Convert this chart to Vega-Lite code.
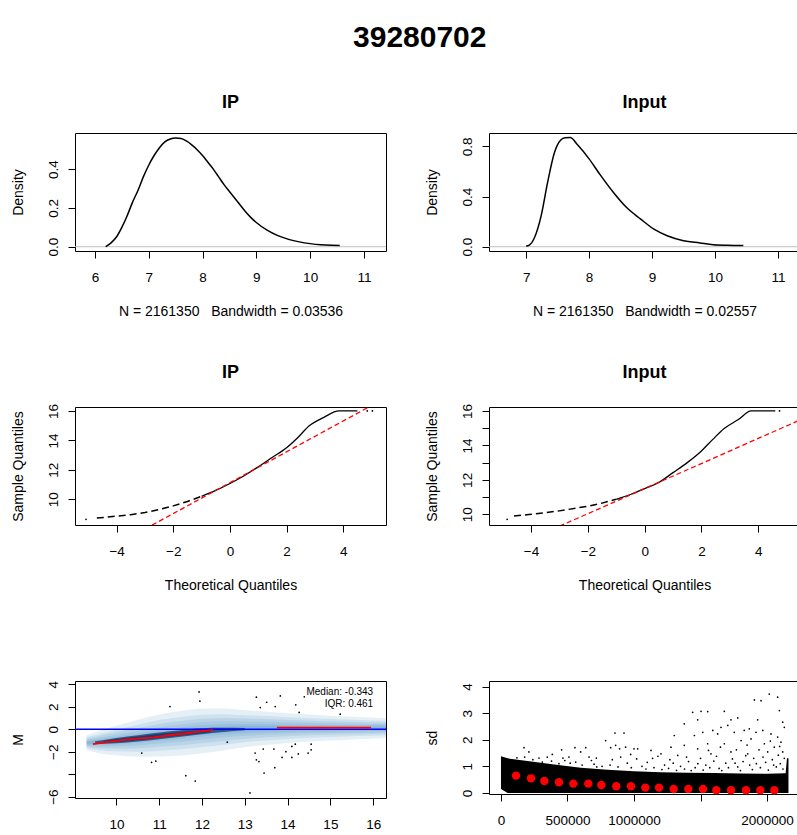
{
  "$schema": "https://vega.github.io/schema/vega-lite/v6.json",
  "background": "white",
  "padding": {"left": 10, "top": 22, "right": 0, "bottom": 0},
  "title": {"text": "39280702", "fontSize": 30, "fontWeight": "bold", "font": "Liberation Sans", "color": "black", "anchor": "middle", "offset": 41, "dx": 14},
  "config": {
    "view": {"stroke": "black", "strokeWidth": 1},
    "axis": {"domain": false, "grid": false, "tickColor": "black", "tickSize": 7, "labelFont": "Liberation Sans", "labelFontSize": 13.5, "labelColor": "black", "titleFont": "Liberation Sans", "titleFontSize": 14, "titleFontWeight": "normal", "titleColor": "black", "labelOverlap": false, "labelFlush": false, "labelSeparation": -40},
    "axisQuantitative": {"labelOverlap": false},
    "axisX": {"labelPadding": 12, "titlePadding": 21, "labelOverlap": false},
    "axisY": {"labelAngle": 270, "labelAlign": "center", "labelBaseline": "bottom", "labelPadding": 8, "titlePadding": 21, "labelOverlap": false},
    "title": {"font": "Liberation Sans", "fontSize": 18, "fontWeight": "bold", "color": "black", "offset": 21}
  },
  "datasets": {
    "dens_ip": [
      {"x": 6.2, "y": 0.0}, {"x": 6.3, "y": 0.02}, {"x": 6.4, "y": 0.05}, {"x": 6.5, "y": 0.10}, {"x": 6.6, "y": 0.16}, {"x": 6.7, "y": 0.23}, {"x": 6.8, "y": 0.29}, {"x": 6.9, "y": 0.36}, {"x": 7.0, "y": 0.42}, {"x": 7.1, "y": 0.47}, {"x": 7.2, "y": 0.51}, {"x": 7.3, "y": 0.54}, {"x": 7.4, "y": 0.555}, {"x": 7.5, "y": 0.56}, {"x": 7.6, "y": 0.558}, {"x": 7.7, "y": 0.545}, {"x": 7.8, "y": 0.525}, {"x": 7.9, "y": 0.50}, {"x": 8.0, "y": 0.47}, {"x": 8.1, "y": 0.435}, {"x": 8.2, "y": 0.40}, {"x": 8.3, "y": 0.36}, {"x": 8.4, "y": 0.32}, {"x": 8.5, "y": 0.285}, {"x": 8.6, "y": 0.25}, {"x": 8.7, "y": 0.215}, {"x": 8.8, "y": 0.18}, {"x": 8.9, "y": 0.15}, {"x": 9.0, "y": 0.125}, {"x": 9.2, "y": 0.085}, {"x": 9.4, "y": 0.057}, {"x": 9.6, "y": 0.038}, {"x": 9.8, "y": 0.025}, {"x": 10.0, "y": 0.016}, {"x": 10.2, "y": 0.01}, {"x": 10.4, "y": 0.007}, {"x": 10.55, "y": 0.006}
    ],
    "dens_in": [
      {"x": 7.0, "y": 0.005}, {"x": 7.05, "y": 0.013}, {"x": 7.13, "y": 0.07}, {"x": 7.24, "y": 0.25}, {"x": 7.34, "y": 0.51}, {"x": 7.45, "y": 0.75}, {"x": 7.55, "y": 0.85}, {"x": 7.62, "y": 0.868}, {"x": 7.7, "y": 0.87}, {"x": 7.82, "y": 0.81}, {"x": 8.0, "y": 0.70}, {"x": 8.18, "y": 0.57}, {"x": 8.39, "y": 0.43}, {"x": 8.6, "y": 0.31}, {"x": 8.82, "y": 0.22}, {"x": 9.03, "y": 0.14}, {"x": 9.24, "y": 0.088}, {"x": 9.5, "y": 0.048}, {"x": 9.76, "y": 0.03}, {"x": 9.97, "y": 0.016}, {"x": 10.2, "y": 0.012}, {"x": 10.45, "y": 0.01}
    ],
    "zero": [{"y": 0}],
    "qq_ip": [
      {"seg": "tail", "x": -4.7, "y": 8.72}, {"seg": "tail", "x": -4.0, "y": 8.85}, {"seg": "tail", "x": -3.5, "y": 8.95}, {"seg": "tail", "x": -3.0, "y": 9.1}, {"seg": "tail", "x": -2.5, "y": 9.3}, {"seg": "tail", "x": -2.0, "y": 9.55}, {"seg": "tail", "x": -1.5, "y": 9.85}, {"seg": "tail", "x": -1.0, "y": 10.2},
      {"seg": "body", "x": -1.0, "y": 10.2}, {"seg": "body", "x": -0.5, "y": 10.6}, {"seg": "body", "x": 0, "y": 11.07}, {"seg": "body", "x": 0.5, "y": 11.6}, {"seg": "body", "x": 1.0, "y": 12.2}, {"seg": "body", "x": 1.5, "y": 12.85}, {"seg": "body", "x": 2.0, "y": 13.5}, {"seg": "body", "x": 2.4, "y": 14.2}, {"seg": "body", "x": 2.8, "y": 15.0}, {"seg": "body", "x": 3.3, "y": 15.55}, {"seg": "body", "x": 3.85, "y": 16.0}, {"seg": "body", "x": 4.5, "y": 16.0}
    ],
    "qq_ip_pts": [{"x": -5.08, "y": 8.64}, {"x": 4.85, "y": 16.0}, {"x": 5.03, "y": 16.0}],
    "qqline_ip": [{"x": -2.75, "y": 8.24}, {"x": 5.6, "y": 17.0}],
    "qq_in": [
      {"seg": "tail", "x": -4.6, "y": 9.9}, {"seg": "tail", "x": -4.0, "y": 10.0}, {"seg": "tail", "x": -3.0, "y": 10.2}, {"seg": "tail", "x": -2.0, "y": 10.47}, {"seg": "tail", "x": -1.5, "y": 10.65}, {"seg": "tail", "x": -1.0, "y": 10.87},
      {"seg": "body", "x": -1.0, "y": 10.87}, {"seg": "body", "x": -0.5, "y": 11.15}, {"seg": "body", "x": 0, "y": 11.49}, {"seg": "body", "x": 0.5, "y": 11.85}, {"seg": "body", "x": 1.0, "y": 12.42}, {"seg": "body", "x": 1.5, "y": 13.0}, {"seg": "body", "x": 2.0, "y": 13.68}, {"seg": "body", "x": 2.4, "y": 14.35}, {"seg": "body", "x": 2.8, "y": 14.98}, {"seg": "body", "x": 3.3, "y": 15.5}, {"seg": "body", "x": 3.75, "y": 16.0}, {"seg": "body", "x": 4.6, "y": 16.0}
    ],
    "qq_in_pts": [{"x": -4.84, "y": 9.71}, {"x": 4.75, "y": 16.0}],
    "qqline_in": [{"x": -3.0, "y": 9.31}, {"x": 5.6, "y": 15.57}],
    "ma_band": [
      {"layer": 1, "x": 9.3, "lo": -1.86, "hi": -0.54}, {"layer": 1, "x": 9.6, "lo": -2.14, "hi": -0.16}, {"layer": 1, "x": 10, "lo": -2.32, "hi": 0.32}, {"layer": 1, "x": 10.5, "lo": -2.45, "hi": 0.85}, {"layer": 1, "x": 11, "lo": -2.42, "hi": 1.32}, {"layer": 1, "x": 11.5, "lo": -2.33, "hi": 1.63}, {"layer": 1, "x": 12, "lo": -2.13, "hi": 1.83}, {"layer": 1, "x": 12.5, "lo": -1.89, "hi": 1.85}, {"layer": 1, "x": 13, "lo": -1.6, "hi": 1.7}, {"layer": 1, "x": 14, "lo": -1.22, "hi": 1.42}, {"layer": 1, "x": 15, "lo": -1.0, "hi": 1.2}, {"layer": 1, "x": 16.3, "lo": -0.78, "hi": 0.98},
      {"layer": 2, "x": 9.3, "lo": -1.68, "hi": -0.72}, {"layer": 2, "x": 9.6, "lo": -1.87, "hi": -0.43}, {"layer": 2, "x": 10, "lo": -1.96, "hi": -0.04}, {"layer": 2, "x": 10.5, "lo": -2.0, "hi": 0.4}, {"layer": 2, "x": 11, "lo": -1.91, "hi": 0.81}, {"layer": 2, "x": 11.5, "lo": -1.79, "hi": 1.09}, {"layer": 2, "x": 12, "lo": -1.59, "hi": 1.29}, {"layer": 2, "x": 12.5, "lo": -1.38, "hi": 1.34}, {"layer": 2, "x": 13, "lo": -1.15, "hi": 1.25}, {"layer": 2, "x": 14, "lo": -0.86, "hi": 1.06}, {"layer": 2, "x": 15, "lo": -0.7, "hi": 0.9}, {"layer": 2, "x": 16.3, "lo": -0.54, "hi": 0.74},
      {"layer": 3, "x": 9.3, "lo": -1.56, "hi": -0.84}, {"layer": 3, "x": 9.6, "lo": -1.69, "hi": -0.61}, {"layer": 3, "x": 10, "lo": -1.72, "hi": -0.28}, {"layer": 3, "x": 10.5, "lo": -1.7, "hi": 0.1}, {"layer": 3, "x": 11, "lo": -1.57, "hi": 0.47}, {"layer": 3, "x": 11.5, "lo": -1.43, "hi": 0.73}, {"layer": 3, "x": 12, "lo": -1.23, "hi": 0.93}, {"layer": 3, "x": 12.5, "lo": -1.04, "hi": 1.0}, {"layer": 3, "x": 13, "lo": -0.85, "hi": 0.95}, {"layer": 3, "x": 14, "lo": -0.62, "hi": 0.82}, {"layer": 3, "x": 15, "lo": -0.5, "hi": 0.7}, {"layer": 3, "x": 16.3, "lo": -0.38, "hi": 0.58},
      {"layer": 4, "x": 9.3, "lo": -1.46, "hi": -0.95}, {"layer": 4, "x": 9.6, "lo": -1.53, "hi": -0.77}, {"layer": 4, "x": 10, "lo": -1.51, "hi": -0.49}, {"layer": 4, "x": 10.5, "lo": -1.44, "hi": -0.16}, {"layer": 4, "x": 11, "lo": -1.27, "hi": 0.17}, {"layer": 4, "x": 11.5, "lo": -1.12, "hi": 0.42}, {"layer": 4, "x": 12, "lo": -0.92, "hi": 0.62}, {"layer": 4, "x": 12.5, "lo": -0.74, "hi": 0.7}, {"layer": 4, "x": 13, "lo": -0.59, "hi": 0.69}, {"layer": 4, "x": 14, "lo": -0.41, "hi": 0.61}, {"layer": 4, "x": 15, "lo": -0.33, "hi": 0.53}, {"layer": 4, "x": 16.3, "lo": -0.24, "hi": 0.44},
      {"layer": 5, "x": 9.3, "lo": -1.37, "hi": -1.04}, {"layer": 5, "x": 9.6, "lo": -1.4, "hi": -0.9}, {"layer": 5, "x": 10, "lo": -1.33, "hi": -0.67}, {"layer": 5, "x": 10.5, "lo": -1.21, "hi": -0.39}, {"layer": 5, "x": 11, "lo": -1.02, "hi": -0.08}, {"layer": 5, "x": 11.5, "lo": -0.85, "hi": 0.15}, {"layer": 5, "x": 12, "lo": -0.65, "hi": 0.35}, {"layer": 5, "x": 12.5, "lo": -0.49, "hi": 0.45}, {"layer": 5, "x": 13, "lo": -0.36, "hi": 0.46}, {"layer": 5, "x": 14, "lo": -0.23, "hi": 0.43}, {"layer": 5, "x": 15, "lo": -0.18, "hi": 0.38}, {"layer": 5, "x": 16.3, "lo": -0.12, "hi": 0.32},
      {"layer": 6, "x": 9.3, "lo": -1.29, "hi": -1.11}, {"layer": 6, "x": 9.6, "lo": -1.29, "hi": -1.01}, {"layer": 6, "x": 10, "lo": -1.18, "hi": -0.82}, {"layer": 6, "x": 10.5, "lo": -1.03, "hi": -0.58}, {"layer": 6, "x": 11, "lo": -0.81, "hi": -0.3}, {"layer": 6, "x": 11.5, "lo": -0.62, "hi": -0.08}, {"layer": 6, "x": 12, "lo": -0.42, "hi": 0.12}, {"layer": 6, "x": 12.5, "lo": -0.28, "hi": 0.24}, {"layer": 6, "x": 13, "lo": -0.18, "hi": 0.28}, {"layer": 6, "x": 14, "lo": -0.08, "hi": 0.28}, {"layer": 6, "x": 15, "lo": -0.05, "hi": 0.25}, {"layer": 6, "x": 16.3, "lo": -0.02, "hi": 0.22},
      {"layer": 7, "x": 9.5, "lo": -1.32, "hi": -1.08}, {"layer": 7, "x": 10, "lo": -1.25, "hi": -0.78}, {"layer": 7, "x": 10.5, "lo": -1.1, "hi": -0.53}, {"layer": 7, "x": 11, "lo": -0.9, "hi": -0.3}, {"layer": 7, "x": 11.5, "lo": -0.68, "hi": -0.1}, {"layer": 7, "x": 12, "lo": -0.45, "hi": 0.08}, {"layer": 7, "x": 12.5, "lo": -0.25, "hi": 0.12}, {"layer": 7, "x": 13, "lo": -0.1, "hi": 0.1},
      {"layer": 8, "x": 9.7, "lo": -1.22, "hi": -1.02}, {"layer": 8, "x": 10.2, "lo": -1.1, "hi": -0.78}, {"layer": 8, "x": 10.7, "lo": -0.92, "hi": -0.55}, {"layer": 8, "x": 11.2, "lo": -0.7, "hi": -0.35}, {"layer": 8, "x": 11.7, "lo": -0.48, "hi": -0.17}, {"layer": 8, "x": 12.2, "lo": -0.28, "hi": -0.04}
    ],
    "ma_pts": [
      {"x": 11.93, "y": 3.32}, {"x": 11.95, "y": 2.49}, {"x": 11.25, "y": 2.02}, {"x": 13.27, "y": 2.85}, {"x": 13.36, "y": 1.93}, {"x": 13.51, "y": 2.40}, {"x": 13.71, "y": 2.02}, {"x": 13.83, "y": 2.96}, {"x": 14.19, "y": 2.17}, {"x": 14.27, "y": 1.49}, {"x": 14.39, "y": 2.88}, {"x": 15.23, "y": 1.34},
      {"x": 12.59, "y": -1.15}, {"x": 10.59, "y": -2.12}, {"x": 10.82, "y": -2.95}, {"x": 10.92, "y": -2.83}, {"x": 11.62, "y": -4.13}, {"x": 11.84, "y": -4.61}, {"x": 13.12, "y": -5.67}, {"x": 13.24, "y": -2.12}, {"x": 13.27, "y": -2.72}, {"x": 13.33, "y": -2.88}, {"x": 13.43, "y": -1.77}, {"x": 13.45, "y": -3.9}, {"x": 13.68, "y": -1.77}, {"x": 13.70, "y": -3.42}, {"x": 13.87, "y": -2.51}, {"x": 13.96, "y": -2.0}, {"x": 14.1, "y": -1.53}, {"x": 14.18, "y": -1.33}, {"x": 14.10, "y": -2.51}, {"x": 14.25, "y": -2.2}, {"x": 14.48, "y": -2.12}, {"x": 14.55, "y": -1.83}, {"x": 14.55, "y": -1.33}
    ],
    "ma_loess": [
      {"seg": "a", "x": 9.45, "y": -1.32}, {"seg": "a", "x": 9.8, "y": -1.12}, {"seg": "a", "x": 10.19, "y": -0.94}, {"seg": "a", "x": 10.5, "y": -0.84}, {"seg": "a", "x": 10.86, "y": -0.73}, {"seg": "a", "x": 11.2, "y": -0.56}, {"seg": "a", "x": 11.6, "y": -0.38}, {"seg": "a", "x": 11.95, "y": -0.2}, {"seg": "a", "x": 12.26, "y": -0.08},
      {"seg": "b", "x": 13.75, "y": 0.15}, {"seg": "b", "x": 15.95, "y": 0.15}
    ],
    "ma_text": [{"x": 16.0, "y": 3.32, "label": "Median: -0.343"}, {"x": 16.0, "y": 2.2, "label": "IQR: 0.461"}],
    "sd_env": [
      {"x": 0, "lo": 0.15, "hi": 1.38}, {"x": 50000, "lo": 0.0, "hi": 1.3}, {"x": 200000, "lo": 0.0, "hi": 1.2}, {"x": 400000, "lo": 0.0, "hi": 1.07}, {"x": 600000, "lo": 0.0, "hi": 0.95}, {"x": 800000, "lo": 0.0, "hi": 0.87}, {"x": 1000000, "lo": 0.0, "hi": 0.82}, {"x": 1200000, "lo": 0.0, "hi": 0.78}, {"x": 1400000, "lo": 0.0, "hi": 0.76}, {"x": 1600000, "lo": 0.0, "hi": 0.75}, {"x": 1800000, "lo": 0.0, "hi": 0.73}, {"x": 2000000, "lo": 0.0, "hi": 0.72}, {"x": 2140000, "lo": 0.0, "hi": 0.74}, {"x": 2150000, "lo": 0.0, "hi": 1.3}, {"x": 2161350, "lo": 0.0, "hi": 1.3}
    ],
    "sd_pts": [
      {"x": 173000, "y": 1.70}, {"x": 210000, "y": 1.54}, {"x": 178000, "y": 1.35}, {"x": 286000, "y": 1.31}, {"x": 348000, "y": 1.35}, {"x": 386000, "y": 1.45}, {"x": 456000, "y": 1.62}, {"x": 466000, "y": 1.31}, {"x": 511000, "y": 1.35}, {"x": 556000, "y": 1.70}, {"x": 599000, "y": 1.54}, {"x": 637000, "y": 1.70}, {"x": 662000, "y": 1.35}, {"x": 717000, "y": 1.31}, {"x": 787000, "y": 1.97}, {"x": 825000, "y": 1.70}, {"x": 857000, "y": 2.25}, {"x": 862000, "y": 1.79}, {"x": 892000, "y": 1.66}, {"x": 925000, "y": 2.25}, {"x": 937000, "y": 1.72}, {"x": 975000, "y": 1.45}, {"x": 1000000, "y": 1.66}, {"x": 900000, "y": 1.35}, {"x": 837000, "y": 1.25}, {"x": 562000, "y": 1.16}, {"x": 436000, "y": 1.10}, {"x": 311000, "y": 1.16},
      {"x": 2017000, "y": 3.72}, {"x": 2080000, "y": 3.60}, {"x": 1905000, "y": 3.50}, {"x": 1955000, "y": 3.47}, {"x": 2093000, "y": 3.10}, {"x": 1441000, "y": 3.03}, {"x": 1504000, "y": 3.07}, {"x": 1554000, "y": 3.06}, {"x": 1679000, "y": 3.07}, {"x": 1378000, "y": 2.60}, {"x": 1479000, "y": 2.75}, {"x": 1729000, "y": 2.75}, {"x": 1780000, "y": 2.82}, {"x": 1930000, "y": 2.75}, {"x": 2118000, "y": 2.66}, {"x": 2130000, "y": 2.47}, {"x": 1654000, "y": 2.47}, {"x": 1705000, "y": 2.54}, {"x": 1303000, "y": 2.16}, {"x": 1454000, "y": 2.16}, {"x": 1517000, "y": 2.28}, {"x": 1592000, "y": 2.35}, {"x": 1629000, "y": 2.22}, {"x": 1754000, "y": 2.28}, {"x": 1829000, "y": 2.35}, {"x": 1867000, "y": 2.41}, {"x": 1917000, "y": 2.28}, {"x": 1968000, "y": 2.35}, {"x": 2030000, "y": 2.22}, {"x": 2080000, "y": 2.10}, {"x": 2105000, "y": 1.91}, {"x": 1278000, "y": 1.72}, {"x": 1378000, "y": 1.79}, {"x": 1479000, "y": 1.66}, {"x": 1554000, "y": 1.85}, {"x": 1679000, "y": 1.85}, {"x": 1805000, "y": 1.97}, {"x": 1880000, "y": 2.03}, {"x": 1980000, "y": 1.85}, {"x": 2055000, "y": 1.72}, {"x": 1128000, "y": 1.60}, {"x": 1028000, "y": 1.66}, {"x": 1203000, "y": 1.47}, {"x": 1329000, "y": 1.41}, {"x": 1579000, "y": 1.47}, {"x": 1729000, "y": 1.54}, {"x": 1855000, "y": 1.47}, {"x": 2005000, "y": 1.54}, {"x": 2118000, "y": 1.54},
      {"x": 120000, "y": 1.32}, {"x": 240000, "y": 1.25}, {"x": 380000, "y": 1.2}, {"x": 520000, "y": 1.12}, {"x": 610000, "y": 1.05}, {"x": 700000, "y": 1.08}, {"x": 760000, "y": 1.0}, {"x": 880000, "y": 0.98}, {"x": 950000, "y": 1.12}, {"x": 1060000, "y": 1.0}, {"x": 1100000, "y": 1.15}, {"x": 1150000, "y": 0.95}, {"x": 1230000, "y": 1.05}, {"x": 1270000, "y": 1.25}, {"x": 1350000, "y": 1.0}, {"x": 1410000, "y": 1.18}, {"x": 1460000, "y": 0.95}, {"x": 1500000, "y": 1.3}, {"x": 1540000, "y": 1.05}, {"x": 1600000, "y": 1.2}, {"x": 1640000, "y": 0.92}, {"x": 1690000, "y": 1.12}, {"x": 1740000, "y": 1.28}, {"x": 1780000, "y": 0.98}, {"x": 1820000, "y": 1.18}, {"x": 1870000, "y": 1.05}, {"x": 1900000, "y": 1.3}, {"x": 1950000, "y": 0.95}, {"x": 1990000, "y": 1.15}, {"x": 2040000, "y": 1.25}, {"x": 2070000, "y": 0.98}, {"x": 2100000, "y": 1.1},
      {"x": 2130000, "y": 1.3}, {"x": 1210000, "y": 0.88}, {"x": 1260000, "y": 0.92}, {"x": 1320000, "y": 0.85}, {"x": 1380000, "y": 0.9}, {"x": 1430000, "y": 0.84}, {"x": 1480000, "y": 1.1}, {"x": 1520000, "y": 0.86}, {"x": 1570000, "y": 0.95}, {"x": 1620000, "y": 1.38}, {"x": 1660000, "y": 0.84}, {"x": 1710000, "y": 0.95}, {"x": 1760000, "y": 1.12}, {"x": 1800000, "y": 0.84}, {"x": 1840000, "y": 1.4}, {"x": 1890000, "y": 0.88}, {"x": 1920000, "y": 1.1}, {"x": 1970000, "y": 1.35}, {"x": 2010000, "y": 0.86}, {"x": 2050000, "y": 1.05}, {"x": 2085000, "y": 1.42}, {"x": 2120000, "y": 0.9}, {"x": 1090000, "y": 0.9}, {"x": 1140000, "y": 1.3}, {"x": 980000, "y": 0.95}, {"x": 1020000, "y": 1.28}, {"x": 820000, "y": 1.05}, {"x": 680000, "y": 1.22}, {"x": 720000, "y": 0.98}, {"x": 480000, "y": 1.22}, {"x": 1180000, "y": 1.38}, {"x": 1295000, "y": 1.12}, {"x": 1395000, "y": 1.35}, {"x": 1560000, "y": 1.6}, {"x": 1650000, "y": 1.72}, {"x": 1770000, "y": 1.62}, {"x": 1940000, "y": 1.62}, {"x": 2025000, "y": 1.95}, {"x": 2095000, "y": 1.75}, {"x": 1850000, "y": 1.8}
    ],
    "sd_red": [
      {"x": 112800, "y": 0.65}, {"x": 225600, "y": 0.55}, {"x": 325800, "y": 0.45}, {"x": 436000, "y": 0.40}, {"x": 543800, "y": 0.35}, {"x": 656600, "y": 0.35}, {"x": 754400, "y": 0.30}, {"x": 867200, "y": 0.25}, {"x": 977500, "y": 0.25}, {"x": 1085000, "y": 0.20}, {"x": 1188000, "y": 0.20}, {"x": 1298000, "y": 0.15}, {"x": 1408500, "y": 0.15}, {"x": 1518800, "y": 0.15}, {"x": 1619000, "y": 0.10}, {"x": 1729000, "y": 0.10}, {"x": 1842000, "y": 0.10}, {"x": 1950000, "y": 0.10}, {"x": 2055000, "y": 0.10}
    ]
  },
  "concat": [
    {
      "width": 311, "height": 118,
      "title": {"text": "IP"},
      "layer": [
        {"data": {"name": "zero"}, "mark": {"type": "rule", "color": "#bebebe", "strokeWidth": 1},
         "encoding": {"y": {"field": "y", "type": "quantitative"}}},
        {"data": {"name": "dens_ip"}, "mark": {"type": "line", "color": "black", "strokeWidth": 1.5, "interpolate": "monotone"},
         "encoding": {
           "x": {"field": "x", "type": "quantitative", "scale": {"domain": [5.63, 11.41], "nice": false, "zero": false}, "axis": {"values": [6, 7, 8, 9, 10, 11], "title": "N = 2161350 \u00a0 Bandwidth = 0.03536"}},
           "y": {"field": "y", "type": "quantitative", "scale": {"domain": [-0.022, 0.586], "nice": false, "zero": false}, "axis": {"values": [0, 0.1, 0.2, 0.3, 0.4, 0.5], "labelOverlap": false, "labelExpr": "(datum.value == 0 || datum.value == 0.2 || datum.value == 0.4) ? format(datum.value, '.1f') : ''", "title": "Density"}}
         }}
      ]
    },
    {
      "width": 311, "height": 118,
      "title": {"text": "Input"},
      "layer": [
        {"data": {"name": "zero"}, "mark": {"type": "rule", "color": "#bebebe", "strokeWidth": 1},
         "encoding": {"y": {"field": "y", "type": "quantitative"}}},
        {"data": {"name": "dens_in"}, "mark": {"type": "line", "color": "black", "strokeWidth": 1.5, "interpolate": "monotone"},
         "encoding": {
           "x": {"field": "x", "type": "quantitative", "scale": {"domain": [6.41, 11.35], "nice": false, "zero": false}, "axis": {"values": [7, 8, 9, 10, 11], "title": "N = 2161350 \u00a0 Bandwidth = 0.02557"}},
           "y": {"field": "y", "type": "quantitative", "scale": {"domain": [-0.034, 0.906], "nice": false, "zero": false}, "axis": {"values": [0, 0.2, 0.4, 0.6, 0.8], "labelOverlap": false, "labelExpr": "(datum.value == 0 || datum.value == 0.4 || datum.value == 0.8) ? format(datum.value, '.1f') : ''", "title": "Density"}}
         }}
      ]
    },
    {
      "width": 311, "height": 118,
      "title": {"text": "IP"},
      "encoding": {
        "x": {"field": "x", "type": "quantitative", "scale": {"domain": [-5.47, 5.51], "nice": false, "zero": false}, "axis": {"values": [-4, -2, 0, 2, 4], "title": "Theoretical Quantiles"}},
        "y": {"field": "y", "type": "quantitative", "scale": {"domain": [8.25, 16.27], "nice": false, "zero": false}, "axis": {"values": [10, 12, 14, 16], "labelOverlap": false, "title": "Sample Quantiles"}}
      },
      "layer": [
        {"data": {"name": "qq_ip"}, "transform": [{"filter": "datum.seg == 'tail'"}], "mark": {"type": "line", "color": "black", "strokeWidth": 1.5, "strokeDash": [7, 4]}},
        {"data": {"name": "qq_ip"}, "transform": [{"filter": "datum.seg == 'body'"}], "mark": {"type": "line", "color": "black", "strokeWidth": 1.3, "interpolate": "monotone"}},
        {"data": {"name": "qq_ip_pts"}, "mark": {"type": "circle", "color": "black", "size": 3, "opacity": 1}},
        {"data": {"name": "qqline_ip"}, "mark": {"type": "line", "color": "red", "strokeWidth": 1.3, "strokeDash": [5, 3], "clip": true}}
      ]
    },
    {
      "width": 311, "height": 118,
      "title": {"text": "Input"},
      "encoding": {
        "x": {"field": "x", "type": "quantitative", "scale": {"domain": [-5.48, 5.47], "nice": false, "zero": false}, "axis": {"values": [-4, -2, 0, 2, 4], "title": "Theoretical Quantiles"}},
        "y": {"field": "y", "type": "quantitative", "scale": {"domain": [9.38, 16.23], "nice": false, "zero": false}, "axis": {"values": [10, 11, 12, 13, 14, 15, 16], "labelOverlap": false, "labelExpr": "datum.value % 2 == 0 ? datum.label : ''", "title": "Sample Quantiles"}}
      },
      "layer": [
        {"data": {"name": "qq_in"}, "transform": [{"filter": "datum.seg == 'tail'"}], "mark": {"type": "line", "color": "black", "strokeWidth": 1.5, "strokeDash": [7, 4]}},
        {"data": {"name": "qq_in"}, "transform": [{"filter": "datum.seg == 'body'"}], "mark": {"type": "line", "color": "black", "strokeWidth": 1.3, "interpolate": "monotone"}},
        {"data": {"name": "qq_in_pts"}, "mark": {"type": "circle", "color": "black", "size": 3, "opacity": 1}},
        {"data": {"name": "qqline_in"}, "mark": {"type": "line", "color": "red", "strokeWidth": 1.3, "strokeDash": [5, 3], "clip": true}}
      ]
    },
    {
      "width": 311, "height": 117,
      "encoding": {
        "x": {"field": "x", "type": "quantitative", "scale": {"domain": [9.03, 16.3], "nice": false, "zero": false}, "axis": {"values": [10, 11, 12, 13, 14, 15, 16], "title": null}},
        "y": {"field": "y", "type": "quantitative", "scale": {"domain": [-6.12, 4.29], "nice": false, "zero": false}, "axis": {"values": [-6, -4, -2, 0, 2, 4], "labelOverlap": false, "labelSeparation": -40, "labelExpr": "datum.value == -4 ? '' : datum.label", "title": "M"}}
      },
      "layer": [
        {"data": {"name": "ma_band"}, "transform": [{"filter": "datum.layer <= 6"}], "mark": {"type": "area", "color": "#2878b8", "opacity": 0.12, "interpolate": "monotone", "clip": true},
         "encoding": {"y": {"field": "lo", "type": "quantitative"}, "y2": {"field": "hi"}, "detail": {"field": "layer"}}},
        {"data": {"name": "ma_band"}, "transform": [{"filter": "datum.layer >= 7"}], "mark": {"type": "area", "color": "#08306b", "opacity": 0.7, "interpolate": "monotone", "clip": true},
         "encoding": {"y": {"field": "lo", "type": "quantitative"}, "y2": {"field": "hi"}, "detail": {"field": "layer"}}},
        {"data": {"name": "ma_pts"}, "mark": {"type": "circle", "color": "black", "size": 3, "opacity": 1}},
        {"data": {"name": "zero"}, "mark": {"type": "rule", "color": "blue", "strokeWidth": 1.5, "clip": true}, "encoding": {"x": null}},
        {"data": {"name": "ma_loess"}, "mark": {"type": "line", "color": "red", "strokeWidth": 1.8},
         "encoding": {"detail": {"field": "seg"}}},
        {"data": {"name": "ma_text"}, "mark": {"type": "text", "align": "right", "baseline": "middle", "font": "Liberation Sans", "fontSize": 10, "color": "black"},
         "encoding": {"text": {"field": "label"}}}
      ]
    },
    {
      "width": 311, "height": 113,
      "encoding": {
        "x": {"field": "x", "type": "quantitative", "scale": {"domain": [-90000, 2248000], "nice": false, "zero": false}, "axis": {"values": [0, 500000, 1000000, 1500000, 2000000], "format": "d", "labelExpr": "datum.value == 1500000 ? '' : datum.label", "title": null}},
        "y": {"field": "y", "type": "quantitative", "scale": {"domain": [-0.04, 4.21], "nice": false, "zero": false}, "axis": {"values": [0, 1, 2, 3, 4], "labelOverlap": false, "title": "sd"}}
      },
      "layer": [
        {"data": {"name": "sd_env"}, "mark": {"type": "area", "color": "black"},
         "encoding": {"y": {"field": "hi", "type": "quantitative"}, "y2": {"field": "lo"}}},
        {"data": {"name": "sd_pts"}, "mark": {"type": "circle", "color": "black", "size": 3, "opacity": 1}},
        {"data": {"name": "sd_red"}, "mark": {"type": "circle", "color": "red", "size": 70, "opacity": 1}}
      ]
    }
  ],
  "columns": 2,
  "spacing": {"row": 156, "column": 103},
  "bounds": "flush"
}
